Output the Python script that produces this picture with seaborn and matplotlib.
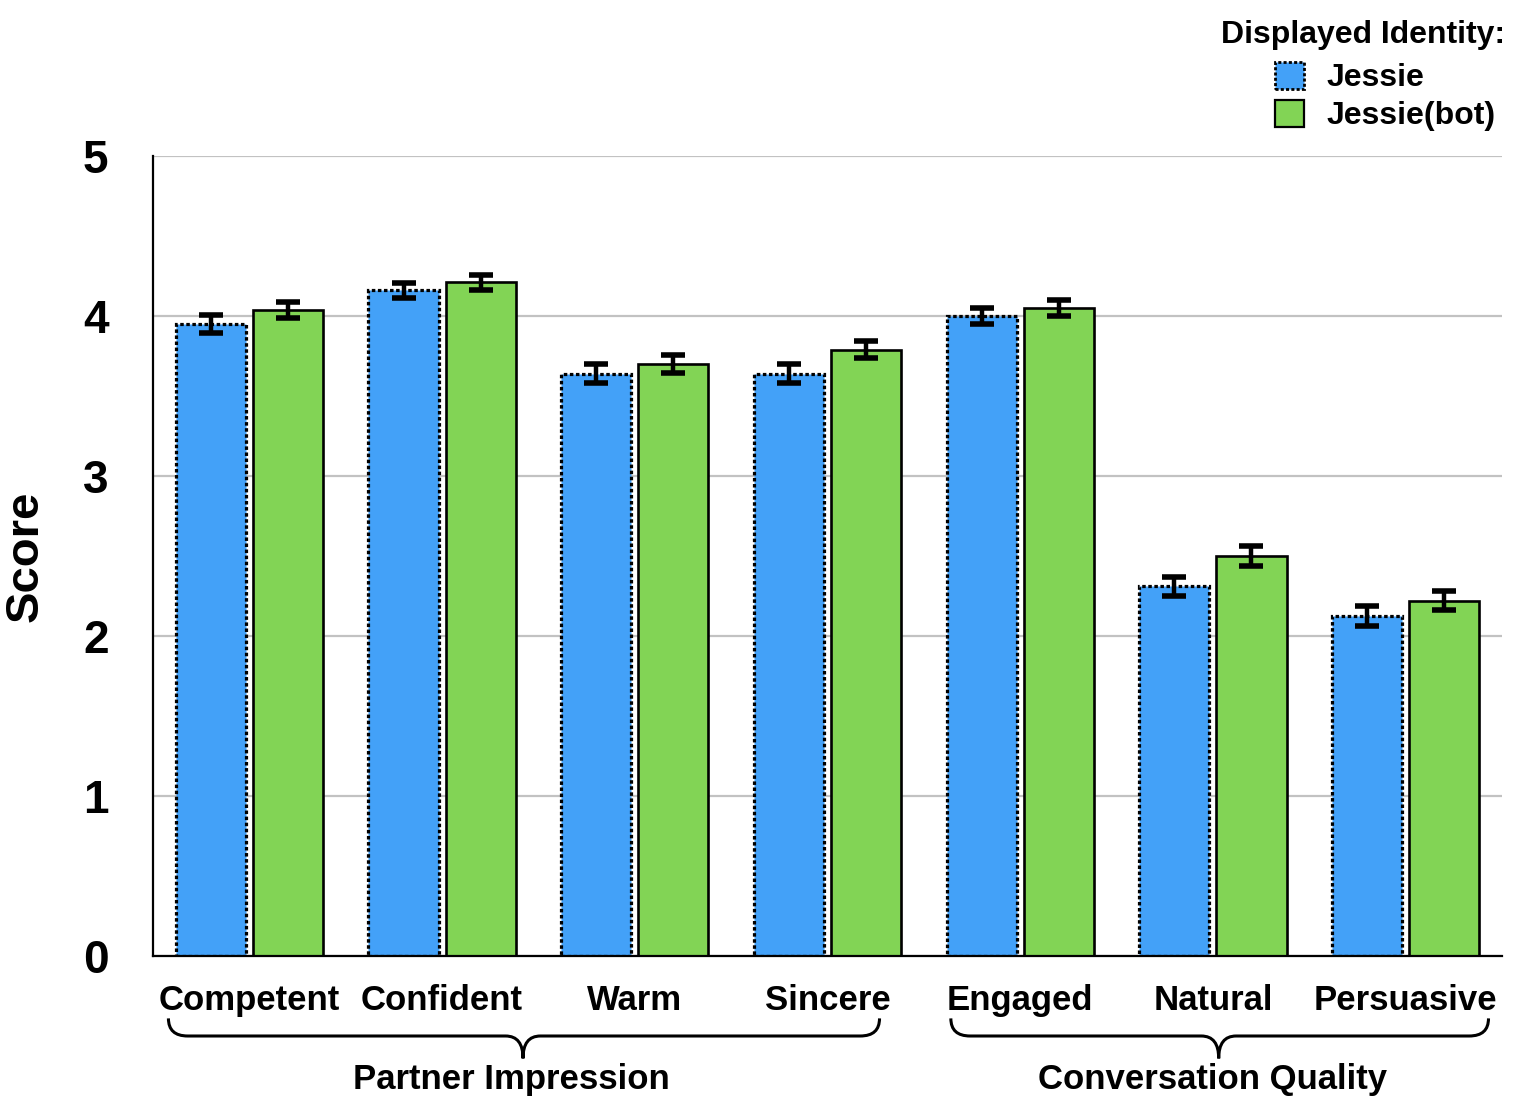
import matplotlib
matplotlib.use("Agg")
import matplotlib.pyplot as plt
from matplotlib.patches import Patch, PathPatch
from matplotlib.path import Path
import seaborn as sns
import pandas

categories = ["Competent", "Confident", "Warm", "Sincere", "Engaged", "Natural", "Persuasive"]
identities = ["Jessie", "Jessie(bot)"]
jessie = [3.95, 4.16, 3.64, 3.64, 4.00, 2.31, 2.125]
jessie_bot = [4.04, 4.21, 3.70, 3.79, 4.05, 2.50, 2.22]
jessie_err = [0.055, 0.045, 0.06, 0.06, 0.053, 0.06, 0.06]
jessie_bot_err = [0.05, 0.047, 0.057, 0.055, 0.05, 0.06, 0.06]
groups = ["Partner Impression", "Conversation Quality"]

colors = {"Jessie": "#43A1F8", "Jessie(bot)": "#82D455"}

df = pandas.DataFrame({
    "category": categories * 2,
    "identity": [identities[0]] * len(categories) + [identities[1]] * len(categories),
    "score": jessie + jessie_bot,
})

sns.set_style("white")
plt.rcParams["font.family"] = ["Liberation Sans", "DejaVu Sans"]
plt.rcParams["font.weight"] = "bold"
for k in ["text.color", "axes.labelcolor", "xtick.color", "ytick.color"]:
    plt.rcParams[k] = "black"

fig = plt.figure(figsize=(15.22, 11.06), dpi=100)
ax = fig.add_axes([153 / 1522, 150 / 1106, 1349 / 1522, 800 / 1106])

sns.barplot(data=df, x="category", y="score", hue="identity", order=categories,
            hue_order=identities, palette=colors, width=0.8, gap=0.09,
            errorbar=None, edgecolor="black", linewidth=1.9, saturation=1,
            legend=False, ax=ax, zorder=2)

# dotted outline for the Jessie bars
dots = (0, (1.1, 0.8))
for bar in ax.containers[0]:
    bar.set_linestyle(dots)
    bar.set_linewidth(2.3)

for cont, errs in zip(ax.containers, [jessie_err, jessie_bot_err]):
    xs = [b.get_x() + b.get_width() / 2 for b in cont]
    ys = [b.get_height() for b in cont]
    ax.errorbar(xs, ys, yerr=errs, fmt="none", ecolor="black", elinewidth=3.2,
                capsize=8.5, capthick=4, zorder=3)

ax.set_xlim(-0.5, len(categories) - 0.5)
ax.set_ylim(0, 5)
ax.set_yticks(range(6))
ax.yaxis.grid(True, color="#c2c2c2", linewidth=1.6)
ax.set_axisbelow(True)
sns.despine(ax=ax)
for s in ["left", "bottom"]:
    ax.spines[s].set_color("black")
    ax.spines[s].set_linewidth(1.6)
ax.tick_params(axis="y", length=0, pad=32, labelsize=33)
ax.tick_params(axis="x", length=0, pad=20, labelsize=25)
for t in ax.get_xticklabels() + ax.get_yticklabels():
    t.set_fontweight("bold")
ax.set_xlabel("")
ax.set_ylabel("Score", fontsize=34, fontweight="bold")
ax.yaxis.set_label_coords(-0.078, 0.5)

# curly braces under the category groups
trans = ax.get_xaxis_transform()
def brace(xl, xr, xm, y0=-0.078, y1=-0.1, y2=-0.128, r=0.1, t=0.09):
    verts = [(xl, y0), (xl, y1), (xl + r, y1), (xm - t, y1), (xm, y1), (xm, y2),
             (xm, y1), (xm + t, y1), (xr - r, y1), (xr, y1), (xr, y0)]
    codes = [Path.MOVETO, Path.CURVE3, Path.CURVE3, Path.LINETO, Path.CURVE3, Path.CURVE3,
             Path.CURVE3, Path.CURVE3, Path.LINETO, Path.CURVE3, Path.CURVE3]
    ax.add_patch(PathPatch(Path(verts, codes), fill=False, edgecolor="black",
                           linewidth=2.2, transform=trans, clip_on=False))

brace(-0.42, 3.27, 1.42)
brace(3.64, 6.43, 5.03)
ax.text(1.36, -0.166, groups[0], transform=trans, ha="center", va="baseline",
        fontsize=25, fontweight="bold")
ax.text(5.0, -0.166, groups[1], transform=trans, ha="center", va="baseline",
        fontsize=25, fontweight="bold")

fig.text(1505 / 1522, 1 - 35 / 1106, "Displayed Identity:", ha="right", va="center",
         fontsize=23, fontweight="bold")
handles = [Patch(facecolor=colors["Jessie"], edgecolor="black", linewidth=2.0,
                 linestyle=dots),
           Patch(facecolor=colors["Jessie(bot)"], edgecolor="black", linewidth=1.6)]
leg = fig.legend(handles, identities, loc="upper left",
                 bbox_to_anchor=(1275 / 1522, 1 - 62 / 1106), frameon=False,
                 prop={"size": 23, "weight": "bold"},
                 handlelength=0.92, handleheight=0.92, handletextpad=0.7,
                 labelspacing=0.2, borderpad=0, borderaxespad=0)

fig.savefig("out.png", dpi=100)
